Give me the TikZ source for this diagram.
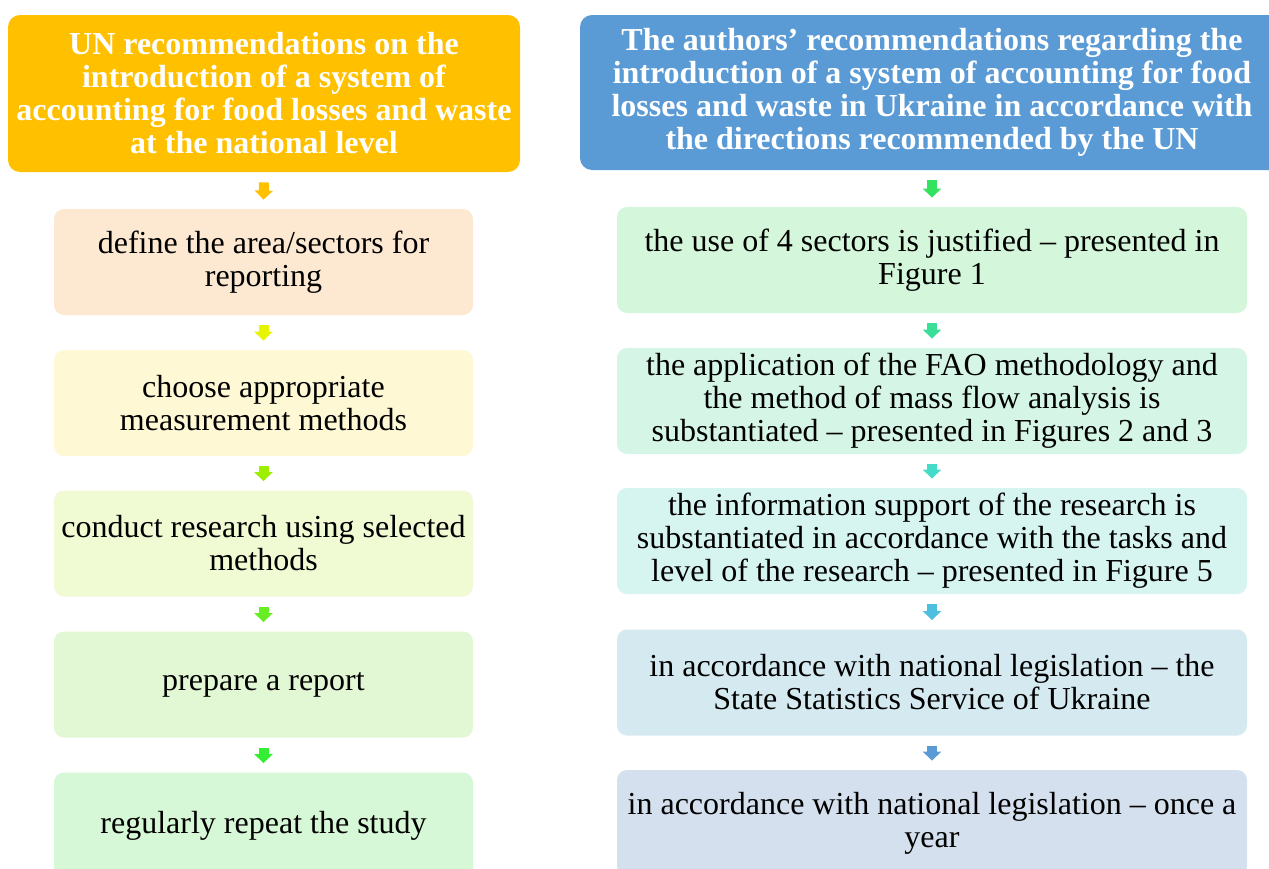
\documentclass[tikz,border=0pt]{standalone}
\usepackage{fontspec}
\setmainfont{Liberation Serif}
\usetikzlibrary{arrows.meta}
\tikzset{
  hdr/.style={rounded corners=6pt, align=center, text=white, inner sep=1pt,
    font=\fontsize{16}{16.5}\selectfont\bfseries},
  stage/.style={rounded corners=5pt, align=center, inner sep=1pt,
    font=\fontsize{16}{16.5}\selectfont},
  lbox/.style={stage, minimum width=209.5pt, minimum height=53pt},
  rbox/.style={stage, minimum width=315pt, minimum height=53pt},
  flow/.style={-{Triangle[width=9pt, length=4.5pt]}, line width=5pt},
}
\definecolor{unY}{HTML}{FFC000}
\definecolor{auB}{HTML}{5B9BD5}
\definecolor{lf1}{HTML}{FDE9D1}
\definecolor{lf2}{HTML}{FEF8D4}
\definecolor{lf3}{HTML}{F0FAD3}
\definecolor{lf4}{HTML}{E2F8D5}
\definecolor{lf5}{HTML}{D7F8D6}
\definecolor{rf1}{HTML}{D4F6DA}
\definecolor{rf2}{HTML}{D5F5E6}
\definecolor{rf3}{HTML}{D6F4F0}
\definecolor{rf4}{HTML}{D4EAF0}
\definecolor{rf5}{HTML}{D5E0EE}
\definecolor{la1}{HTML}{FFC000}
\definecolor{la2}{HTML}{E8F500}
\definecolor{la3}{HTML}{9CEF00}
\definecolor{la4}{HTML}{66EE22}
\definecolor{la5}{HTML}{33EE33}
\definecolor{ra1}{HTML}{33E25E}
\definecolor{ra2}{HTML}{3ADE98}
\definecolor{ra3}{HTML}{44DCC8}
\definecolor{ra4}{HTML}{4CC0DE}
\definecolor{ra5}{HTML}{5B9BD5}

\begin{document}
\begin{tikzpicture}[x=0.5pt, y=-0.5pt]
  \clip (0,0) rectangle (1269,868);
  \fill[white] (0,0) rectangle (1269,868);
  % UN column
  \node[hdr, fill=unY, minimum width=256pt, minimum height=78.5pt] (un) at (264,93.5)
    {UN recommendations on the\\introduction of a system of\\accounting for food losses and waste\\at the national level};
  \node[lbox, fill=lf1] (un1) at (263.5,262) {define the area/sectors for\\reporting};
  \node[lbox, fill=lf2] (un2) at (263.5,403) {choose appropriate\\measurement methods};
  \node[lbox, fill=lf3] (un3) at (263.5,543.5) {conduct research using selected\\methods};
  \node[lbox, fill=lf4] (un4) at (263.5,684.5) {prepare a report};
  \node[lbox, fill=lf5] (un5) at (263.5,825.5) {regularly repeat the study};
  % authors' column
  \node[hdr, fill=auB, minimum width=352pt, minimum height=77.5pt] (au) at (932,92.5)
    {The authors’ recommendations regarding the\\introduction of a system of accounting for food\\losses and waste in Ukraine in accordance with\\the directions recommended by the UN};
  \node[rbox, fill=rf1] (au1) at (932,260) {the use of 4 sectors is justified – presented in\\Figure 1};
  \node[rbox, fill=rf2] (au2) at (932,401) {the application of the FAO methodology and\\the method of mass flow analysis is\\substantiated – presented in Figures 2 and 3};
  \node[rbox, fill=rf3] (au3) at (932,541) {the information support of the research is\\substantiated in accordance with the tasks and\\level of the research – presented in Figure 5};
  \node[rbox, fill=rf4] (au4) at (932,682.5) {in accordance with national legislation – the\\State Statistics Service of Ukraine};
  \node[rbox, fill=rf5] (au5) at (932,823) {in accordance with national legislation – once a\\year};
  % block arrows
  \foreach \a/\b/\c in {un/un1/la1, un1/un2/la2, un2/un3/la3, un3/un4/la4, un4/un5/la5,
                        au/au1/ra1, au1/au2/ra2, au2/au3/ra3, au3/au4/ra4, au4/au5/ra5}
    \draw[flow, \c] ([yshift=-5pt]\a.south) -- ([yshift=4.5pt]\b.north);
\end{tikzpicture}
\end{document}
